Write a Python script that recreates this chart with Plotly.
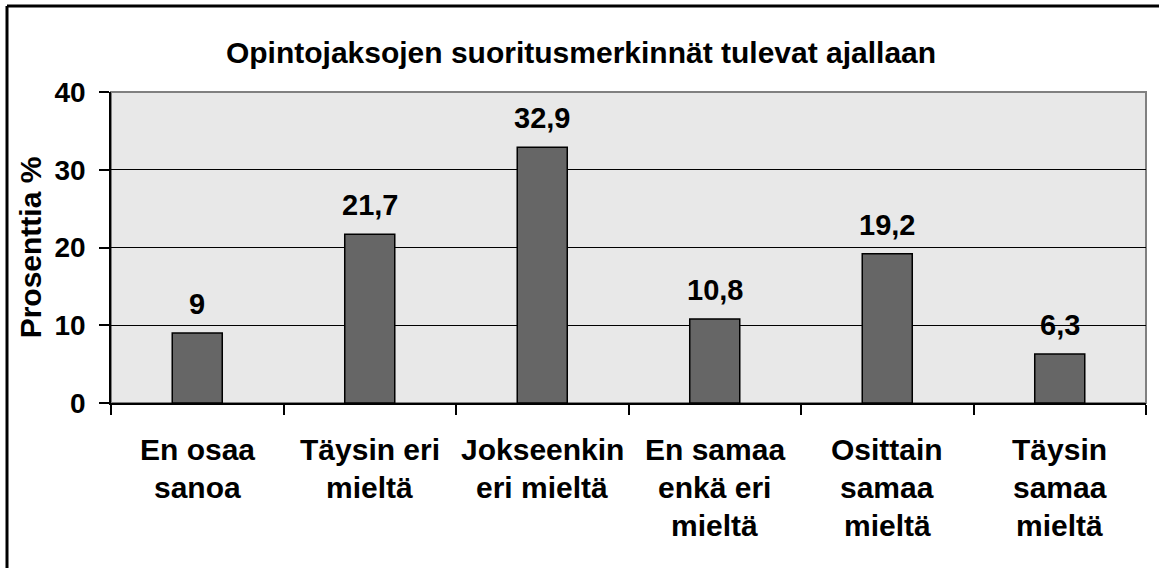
import plotly.graph_objects as go

categories = ["En osaa sanoa", "Täysin eri mieltä", "Jokseenkin eri mieltä",
              "En samaa enkä eri mieltä", "Osittain samaa mieltä", "Täysin samaa mieltä"]
label_lines = [["En osaa", "sanoa"], ["Täysin eri", "mieltä"], ["Jokseenkin", "eri mieltä"],
               ["En samaa", "enkä eri", "mieltä"], ["Osittain", "samaa", "mieltä"],
               ["Täysin", "samaa", "mieltä"]]
values = [9, 21.7, 32.9, 10.8, 19.2, 6.3]
value_labels = ["9", "21,7", "32,9", "10,8", "19,2", "6,3"]
y_ticks = [0, 10, 20, 30, 40]

FONT = "Liberation Sans, Arial, sans-serif"
W, H = 1159, 568
L, R, T, B = 111, 13, 92, 165


def f(size):
    return dict(family=FONT, size=size, color="#000", weight="bold")


fig = go.Figure(go.Bar(
    x=categories, y=values, width=0.29,
    marker=dict(color="#666666", line=dict(color="#000000", width=1.5)),
    hoverinfo="skip"))

ann = []
for c, v, t in zip(categories, values, value_labels):
    ann.append(dict(x=c, y=v, text=t, showarrow=False, yanchor="bottom",
                    yshift=11, font=f(29)))
for c, lines in zip(categories, label_lines):
    for i, ln in enumerate(lines):
        ann.append(dict(x=c, y=0, text=ln, showarrow=False, yanchor="middle",
                        yshift=-(46 + 38 * i), font=f(30)))

pw, ph = W - L - R, H - T - B
def px(xp): return (xp - L) / pw
def py(yp): return (H - B - yp) / ph

shapes = [
    dict(type="rect", xref="paper", yref="paper", x0=0, x1=1, y0=0, y1=1,
         line=dict(color="#808080", width=2), layer="below"),
    dict(type="line", xref="paper", yref="paper", x0=px(7), x1=px(1162), y0=py(6), y1=py(6),
         line=dict(color="#000", width=3)),
    dict(type="line", xref="paper", yref="paper", x0=px(7), x1=px(7), y0=py(6), y1=py(572),
         line=dict(color="#000", width=3)),
]

fig.update_layout(
    width=W, height=H, margin=dict(l=L, r=R, t=T, b=B),
    paper_bgcolor="#FFFFFF", plot_bgcolor="#E8E8E8",
    title=dict(text="Opintojaksojen suoritusmerkinnät tulevat ajallaan",
               x=581 / W, xanchor="center", xref="container", y=1 - 52 / H, yanchor="middle",
               font=f(30)),
    showlegend=False, annotations=ann, shapes=shapes, bargap=0.71,
    xaxis=dict(type="category", showticklabels=False, ticks="outside", tickson="boundaries",
               ticklen=10, tickcolor="#000", tickwidth=1.5, showline=True, linecolor="#000",
               linewidth=1.5, showgrid=False, range=[-0.5, 5.5]),
    yaxis=dict(range=[0, 40], tickvals=y_ticks, ticks="outside", ticklen=10, tickcolor="#000",
               tickwidth=1.5, showline=True, linecolor="#000", linewidth=1.5,
               showgrid=True, gridcolor="#000", gridwidth=1, zeroline=False,
               ticklabelstandoff=8, tickfont=f(28),
               title=dict(text="Prosenttia %", standoff=4, font=f(30))),
)
fig.write_html("out.html", config={"displayModeBar": False},
               post_script="document.body.style.margin='0';")
